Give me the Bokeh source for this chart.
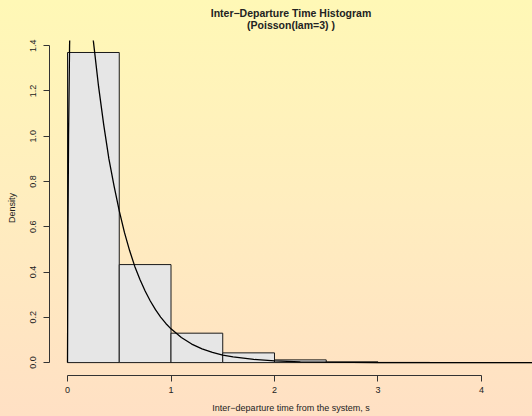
from bokeh.plotting import figure
from bokeh.models import FixedTicker, PrintfTickFormatter, Title
from bokeh.embed import file_html
from bokeh.resources import INLINE

# Histogram data (density per bin of width 0.5)
bin_left = [0.0, 0.5, 1.0, 1.5, 2.0, 2.5, 3.0, 3.5, 4.0, 4.5]
bin_right = [0.5, 1.0, 1.5, 2.0, 2.5, 3.0, 3.5, 4.0, 4.5, 5.0]
density = [1.37, 0.433, 0.13, 0.043, 0.012, 0.003, 0.0008, 0.0004, 0.0004, 0.0002]

# Fitted density curve
curve_x = [0.0, 0.005, 0.01, 0.02, 0.03, 0.05, 0.1, 0.15, 0.2, 0.25, 0.3, 0.35, 0.4,
           0.45, 0.5, 0.55, 0.6, 0.65, 0.7, 0.75, 0.8, 0.85, 0.9, 0.95, 1.0, 1.1,
           1.2, 1.3, 1.4, 1.5, 1.6, 1.8, 2.0, 2.25, 2.5, 3.0, 3.5, 4.0, 4.5]
curve_y = [0.0, 0.6, 1.0, 1.4, 1.6, 2.0, 2.2, 1.9, 1.65, 1.42, 1.22, 1.05, 0.9,
           0.78, 0.67, 0.575, 0.495, 0.425, 0.367, 0.316, 0.272, 0.234, 0.201,
           0.173, 0.149, 0.111, 0.082, 0.061, 0.045, 0.033, 0.025, 0.014, 0.0075,
           0.0035, 0.0017, 0.0004, 0.0001, 0.00002, 0.0]

x_ticks = [0, 1, 2, 3, 4]
y_ticks = [0.0, 0.2, 0.4, 0.6, 0.8, 1.0, 1.2, 1.4]

FONT = "Liberation Sans"

p = figure(width=532, height=416, output_backend="svg", toolbar_location=None,
           title=None, x_range=(-0.174, 4.493), y_range=(-0.057, 1.423),
           min_border_left=49, min_border_right=0, min_border_top=40,
           min_border_bottom=41)
p.styles = {"background": "linear-gradient(180deg, #FFF8B6 0%, #FFEDBF 50%, #FFE0C4 100%)"}
p.border_fill_color = None
p.background_fill_color = None
p.outline_line_color = None
p.grid.visible = False

p.quad(left=bin_left, right=bin_right, bottom=0, top=density,
       fill_color="#E6E6E6", line_color="#1a1a1a", line_width=1)
p.line(curve_x, curve_y, line_color="black", line_width=1.3)

sub = Title(text="(Poisson(lam=3) )", align="center", text_font=FONT,
            text_font_size="10.5px", text_font_style="bold", text_color="#222222",
            standoff=19)
main = Title(text="Inter\u2212Departure Time Histogram", align="center", text_font=FONT,
             text_font_size="10.5px", text_font_style="bold", text_color="#222222",
             standoff=-22)
p.add_layout(sub, "above")
p.add_layout(main, "above")

for ax in (p.xaxis[0], p.yaxis[0]):
    ax.major_tick_out = 6
    ax.major_tick_in = 0
    ax.minor_tick_out = 0
    ax.minor_tick_in = 0
    ax.axis_line_color = "#333333"
    ax.major_tick_line_color = "#333333"
    ax.major_label_text_font = FONT
    ax.major_label_text_font_size = "9px"
    ax.major_label_text_color = "#222222"
    ax.axis_label_text_font = FONT
    ax.axis_label_text_font_size = "9px"
    ax.axis_label_text_font_style = "normal"
    ax.axis_label_text_color = "#222222"

p.xaxis.ticker = FixedTicker(ticks=x_ticks)
p.xaxis.bounds = (0, 4)
p.xaxis.axis_label = "Inter\u2212departure time from the system, s"
p.xaxis.major_label_standoff = 5
p.xaxis.axis_label_standoff = 7

p.yaxis.ticker = FixedTicker(ticks=y_ticks)
p.yaxis.formatter = PrintfTickFormatter(format="%.1f")
p.yaxis.bounds = (0, 1.4)
p.yaxis.axis_label = "Density"
p.yaxis.major_label_orientation = "vertical"
p.yaxis.major_label_standoff = 7
p.yaxis.axis_label_standoff = 11

open("out.html", "w").write(file_html(p, INLINE))
